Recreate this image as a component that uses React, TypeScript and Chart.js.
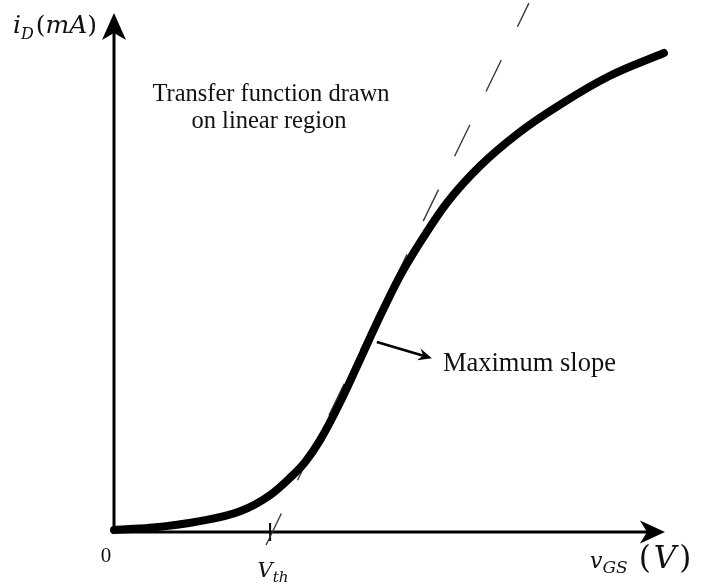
import { useEffect, useRef } from "react";
import { Chart, registerables } from "chart.js";

Chart.register(...registerables);

// Transfer characteristic i_D(v_GS), sampled along the curve
const vgsValues = [0, 0.65, 1.56, 2.29, 2.83, 3.19, 3.47, 3.74, 4.1, 4.46, 4.83, 5.19, 5.55, 6.04, 6.64, 7.37, 8.09, 9.0, 9.98];
const idValues = [0.04, 0.08, 0.21, 0.4, 0.71, 1.04, 1.35, 1.77, 2.49, 3.31, 4.16, 4.93, 5.57, 6.34, 7.05, 7.71, 8.23, 8.79, 9.23];

// Tangent at the point of maximum slope (end points)
const tangentV = [2.76, 7.53];
const tangentI = [-0.25, 10.19];

// Threshold voltage: where the tangent meets the v_GS axis
const vth = 2.86;

// Axis extents (arrow tips)
const vgsMax = 10;
const idMax = 10;

// Pointer to the steepest part of the curve: [from, to] in (v, i)
const slopeArrowV = [4.77, 5.77];
const slopeArrowI = [3.66, 3.35];

const SERIF = "'Liberation Serif', 'Times New Roman', serif";
const MATH = "'DejaVu Serif', serif";

type Run = { t: string; font: string; dy?: number; gap?: number };

function drawRuns(ctx: CanvasRenderingContext2D, runs: Run[], x: number, y: number) {
  let cx = x;
  for (const r of runs) {
    ctx.font = r.font;
    cx += r.gap || 0;
    ctx.fillText(r.t, cx, y + (r.dy || 0));
    cx += ctx.measureText(r.t).width;
  }
}

const axesPlugin = {
  id: "transferAxes",
  beforeDatasetsDraw(chart: any) {
    const { ctx, scales } = chart;
    const xs = scales.x;
    const ys = scales.y;
    const x0 = xs.getPixelForValue(0);
    const y0 = ys.getPixelForValue(0);
    const xEnd = xs.getPixelForValue(vgsMax);
    const yEnd = ys.getPixelForValue(idMax);
    ctx.save();
    ctx.strokeStyle = "#000";
    ctx.fillStyle = "#000";
    ctx.lineWidth = 3;
    ctx.lineCap = "butt";
    // vertical axis
    ctx.beginPath();
    ctx.moveTo(x0, y0 + 1.5);
    ctx.lineTo(x0, yEnd + 15);
    ctx.stroke();
    // horizontal axis
    ctx.beginPath();
    ctx.moveTo(x0 - 1.5, y0);
    ctx.lineTo(xEnd - 15, y0);
    ctx.stroke();
    // arrow heads
    ctx.beginPath();
    ctx.moveTo(x0, yEnd);
    ctx.lineTo(x0 - 12, yEnd + 27);
    ctx.lineTo(x0, yEnd + 20);
    ctx.lineTo(x0 + 12, yEnd + 27);
    ctx.closePath();
    ctx.fill();
    ctx.beginPath();
    ctx.moveTo(xEnd, y0);
    ctx.lineTo(xEnd - 25, y0 - 11.5);
    ctx.lineTo(xEnd - 18, y0);
    ctx.lineTo(xEnd - 25, y0 + 11.5);
    ctx.closePath();
    ctx.fill();
    // threshold tick
    const xt = xs.getPixelForValue(vth);
    ctx.lineWidth = 2;
    ctx.beginPath();
    ctx.moveTo(xt - 1.5, y0 - 9);
    ctx.lineTo(xt - 1.5, y0 + 9);
    ctx.stroke();
    ctx.restore();
  },
  afterDraw(chart: any) {
    const { ctx, scales } = chart;
    const xs = scales.x;
    const ys = scales.y;
    const x0 = xs.getPixelForValue(0);
    const y0 = ys.getPixelForValue(0);
    const xEnd = xs.getPixelForValue(vgsMax);
    const yEnd = ys.getPixelForValue(idMax);
    ctx.save();
    ctx.fillStyle = "#111";
    ctx.strokeStyle = "#000";
    ctx.textBaseline = "alphabetic";

    // pointer arrow
    const ax1 = xs.getPixelForValue(slopeArrowV[0]);
    const ay1 = ys.getPixelForValue(slopeArrowI[0]);
    const ax2 = xs.getPixelForValue(slopeArrowV[1]);
    const ay2 = ys.getPixelForValue(slopeArrowI[1]);
    const ang = Math.atan2(ay2 - ay1, ax2 - ax1);
    const head = 15;
    ctx.lineWidth = 2.6;
    ctx.beginPath();
    ctx.moveTo(ax1, ay1);
    ctx.lineTo(ax2 - Math.cos(ang) * 8, ay2 - Math.sin(ang) * 8);
    ctx.stroke();
    ctx.fillStyle = "#000";
    ctx.beginPath();
    ctx.moveTo(ax2, ay2);
    ctx.lineTo(ax2 - head * Math.cos(ang - 0.42), ay2 - head * Math.sin(ang - 0.42));
    ctx.lineTo(ax2 - 9 * Math.cos(ang), ay2 - 9 * Math.sin(ang));
    ctx.lineTo(ax2 - head * Math.cos(ang + 0.42), ay2 - head * Math.sin(ang + 0.42));
    ctx.closePath();
    ctx.fill();

    ctx.fillStyle = "#111";
    // annotations
    ctx.textAlign = "left";
    ctx.font = `26.5px ${SERIF}`;
    ctx.fillText("Maximum slope", ax2 + 11, ay2 + 13);

    ctx.textAlign = "center";
    ctx.font = `24.5px ${SERIF}`;
    ctx.fillText("Transfer function drawn", x0 + 157, yEnd + 88);
    ctx.fillText("on linear region", x0 + 155, yEnd + 115);

    // origin
    ctx.font = `21px ${SERIF}`;
    ctx.textAlign = "center";
    ctx.fillText("0", x0 - 8, y0 + 30);

    // axis symbols
    ctx.textAlign = "left";
    const it = (px: number) => `italic ${px}px ${MATH}`;
    const up = (px: number) => `${px}px ${MATH}`;
    drawRuns(
      ctx,
      [
        { t: "i", font: it(25) },
        { t: "D", font: it(16), dy: 6 },
        { t: "(", font: up(25), gap: 2 },
        { t: "mA", font: it(25) },
        { t: ")", font: up(25) },
      ],
      x0 - 101,
      yEnd + 20
    );

    const xt = xs.getPixelForValue(vth);
    drawRuns(
      ctx,
      [
        { t: "V", font: it(21) },
        { t: "th", font: it(15), dy: 5 },
      ],
      xt - 14,
      y0 + 45
    );

    drawRuns(
      ctx,
      [
        { t: "v", font: it(22) },
        { t: "GS", font: it(17), dy: 5 },
        { t: "(", font: up(31), gap: 11 },
        { t: "V", font: it(31), gap: 3 },
        { t: ")", font: up(31), gap: 3 },
      ],
      xEnd - 75,
      y0 + 36
    );
    ctx.restore();
  },
};

export default function App() {
  const canvasRef = useRef<HTMLCanvasElement | null>(null);

  useEffect(() => {
    const canvas = canvasRef.current;
    if (!canvas) return;
    const curve = vgsValues.map((v, i) => ({ x: v, y: idValues[i] }));
    const tangent = tangentV.map((v, i) => ({ x: v, y: tangentI[i] }));
    const chart = new Chart(canvas, {
      type: "line",
      data: {
        datasets: [
          {
            label: "tangent",
            data: tangent,
            borderColor: "#3a3a3a",
            borderWidth: 1.4,
            borderDash: [35, 37],
            pointRadius: 0,
            clip: false as any,
            order: 2,
          },
          {
            label: "i_D",
            data: curve,
            borderColor: "#000",
            borderWidth: 8,
            borderCapStyle: "round",
            borderJoinStyle: "round",
            cubicInterpolationMode: "monotone",
            pointRadius: 0,
            clip: false as any,
            order: 1,
          },
        ],
      },
      options: {
        responsive: false,
        animation: false,
        layout: { padding: { left: 114, right: 36, top: 13, bottom: 56 } },
        plugins: { legend: { display: false }, tooltip: { enabled: false } },
        scales: {
          x: { type: "linear", min: 0, max: vgsMax, display: false },
          y: { type: "linear", min: 0, max: idMax, display: false },
        },
      },
      plugins: [axesPlugin],
    });
    return () => chart.destroy();
  }, []);

  return (
    <div style={{ position: "fixed", left: 0, top: 0, width: 701, height: 588, background: "#fff" }}>
      <canvas ref={canvasRef} width={701} height={588} style={{ display: "block" }} />
    </div>
  );
}
